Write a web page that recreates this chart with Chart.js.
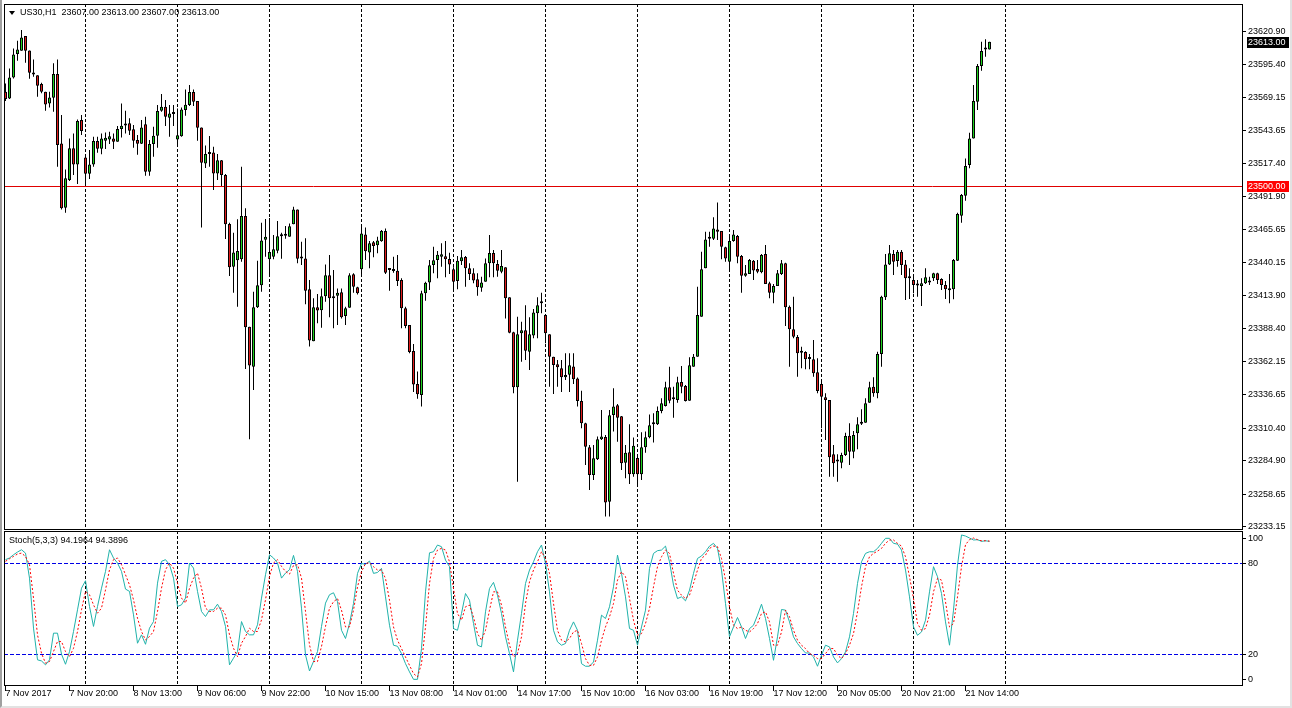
<!DOCTYPE html>
<html>
<head>
<meta charset="utf-8">
<title>US30,H1</title>
<script src="https://cdn.jsdelivr.net/npm/chart.js"></script>
<style>
  html, body { margin: 0; padding: 0; background: #fff; overflow: hidden; }
  #wrap { position: relative; width: 1292px; height: 708px; overflow: hidden; background: #fff; }
  #frame { position: absolute; left: 0; top: 0; width: 1288px; height: 706px;
           border-left: 2px solid #a0a0a0; border-right: 2px solid #e2e2e2; border-bottom: 2px solid #e2e2e2; }
  canvas { position: absolute; left: 0; }
  #main { top: 0; }
  #stoch { top: 531px; }
  .lbl { position: absolute; font: 9px "Liberation Sans", Arial, sans-serif; color: #000; white-space: pre; line-height: 11px; }
  #tri { position: absolute; left: 9px; top: 11px; width: 0; height: 0;
         border-left: 3px solid transparent; border-right: 3px solid transparent; border-top: 4px solid #000; }
</style>
</head>
<body>
<div id="wrap">
  <div id="frame"></div>
  <canvas id="main" width="1292" height="531"></canvas>
  <canvas id="stoch" width="1292" height="177"></canvas>
  <div id="tri"></div>
  <div class="lbl" id="title" style="left:20px; top:7px;"></div>
  <div class="lbl" id="stochTitle" style="left:9px; top:535px;"></div>
</div>
<script>
// US30 H1 candles, oldest first
const opens = [
  23573.9, 23568.6, 23585.1, 23603.4, 23606.0, 23617.5, 23606.2, 23588.7, 23586.7, 23579.9,
  23573.9, 23564.7, 23569.2, 23587.7, 23533.4, 23483.0, 23504.7, 23529.5, 23516.9, 23551.7,
  23522.4, 23509.6, 23516.9, 23535.2, 23529.2, 23535.5, 23536.5, 23537.3, 23534.7, 23544.6,
  23547.8, 23549.1, 23544.4, 23536.0, 23533.1, 23548.3, 23511.2, 23532.9, 23539.4, 23559.0,
  23562.1, 23553.5, 23556.4, 23536.5, 23538.9, 23559.5, 23563.4, 23573.6, 23566.6, 23545.9,
  23517.7, 23525.0, 23526.3, 23509.9, 23520.1, 23508.6, 23470.2, 23436.8, 23441.8, 23442.6,
  23476.5, 23389.8, 23358.5, 23405.0, 23422.2, 23458.0, 23442.6, 23444.6, 23449.3, 23460.6,
  23461.1, 23460.3, 23470.0, 23481.7, 23443.3, 23443.3, 23419.1, 23378.3, 23405.0, 23402.6,
  23413.6, 23430.0, 23413.3, 23414.1, 23416.7, 23398.2, 23404.7, 23430.8, 23420.6, 23434.7,
  23462.1, 23448.0, 23455.9, 23453.5, 23456.7, 23464.8, 23434.2, 23433.4, 23433.7, 23426.4,
  23404.2, 23391.1, 23370.8, 23344.9, 23336.3, 23415.9, 23424.5, 23438.1, 23442.0, 23444.6,
  23444.9, 23442.8, 23434.7, 23425.6, 23441.0, 23444.4, 23435.5, 23431.6, 23426.9, 23420.4,
  23425.1, 23439.4, 23447.5, 23438.9, 23432.9, 23436.3, 23412.8, 23385.4, 23342.3, 23384.6,
  23387.0, 23370.2, 23382.8, 23400.3, 23408.1, 23399.0, 23383.8, 23366.3, 23360.3, 23357.2,
  23350.1, 23352.2, 23358.7, 23349.3, 23331.6, 23314.1, 23295.3, 23273.6, 23285.9, 23301.6,
  23303.4, 23252.7, 23320.6, 23328.2, 23319.6, 23283.3, 23291.4, 23274.1, 23286.9, 23274.1,
  23295.3, 23303.1, 23313.3, 23313.3, 23323.8, 23327.7, 23342.3, 23332.9, 23332.4, 23346.5,
  23343.3, 23331.8, 23358.5, 23366.3, 23397.6, 23435.5, 23458.7, 23458.7, 23466.0, 23464.8,
  23452.0, 23440.7, 23456.9, 23460.8, 23445.2, 23429.8, 23431.1, 23441.5, 23435.0, 23432.4,
  23446.7, 23423.8, 23416.4, 23421.7, 23431.1, 23439.4, 23405.5, 23387.7, 23381.7, 23369.4,
  23370.0, 23364.5, 23364.2, 23354.1, 23344.9, 23334.5, 23332.4, 23289.8, 23284.1, 23283.3,
  23289.3, 23304.4, 23291.9, 23306.3, 23313.8, 23314.6, 23330.3, 23342.8, 23337.6, 23368.4,
  23412.8, 23438.6, 23446.7, 23441.3, 23448.6, 23438.6, 23427.7, 23426.4, 23422.0, 23421.7,
  23423.8, 23424.5, 23427.7, 23431.6, 23427.2, 23422.5, 23418.3, 23419.1, 23441.5, 23476.8,
  23492.4, 23516.4, 23537.3, 23566.0, 23594.0, 23607.0, 23607.0
];
const highs = [
  23580.4, 23592.1, 23607.8, 23613.8, 23622.2, 23617.5, 23606.2, 23599.2, 23586.7, 23580.9,
  23573.9, 23573.9, 23596.1, 23599.2, 23555.6, 23513.0, 23537.3, 23541.2, 23552.2, 23555.6,
  23524.8, 23528.2, 23538.6, 23538.6, 23541.2, 23542.0, 23542.5, 23541.2, 23547.0, 23564.7,
  23559.0, 23553.0, 23547.8, 23539.9, 23551.7, 23554.3, 23536.0, 23546.4, 23563.4, 23572.0,
  23567.3, 23563.4, 23563.4, 23560.8, 23561.6, 23575.7, 23579.1, 23575.7, 23566.6, 23545.9,
  23531.8, 23539.1, 23530.8, 23525.0, 23520.3, 23509.4, 23471.3, 23463.4, 23473.9, 23515.1,
  23482.5, 23389.8, 23417.2, 23441.5, 23471.3, 23474.2, 23474.9, 23461.6, 23472.6, 23463.4,
  23468.7, 23470.7, 23483.8, 23481.7, 23456.4, 23459.0, 23426.4, 23412.0, 23415.4, 23419.8,
  23438.6, 23446.0, 23434.2, 23419.8, 23419.8, 23405.5, 23431.6, 23431.6, 23421.1, 23468.1,
  23467.6, 23456.9, 23456.9, 23460.3, 23465.5, 23466.8, 23435.5, 23444.6, 23446.0, 23427.7,
  23405.5, 23391.1, 23376.2, 23354.6, 23418.0, 23425.1, 23442.0, 23452.5, 23449.1, 23455.1,
  23456.9, 23447.8, 23436.3, 23445.2, 23449.9, 23445.2, 23439.4, 23435.5, 23431.6, 23429.0,
  23443.3, 23461.6, 23449.9, 23442.0, 23449.9, 23436.3, 23412.8, 23385.9, 23397.6, 23393.7,
  23406.5, 23397.1, 23403.7, 23412.8, 23416.4, 23399.5, 23383.8, 23366.3, 23363.7, 23363.7,
  23368.9, 23368.9, 23368.9, 23349.9, 23339.7, 23314.6, 23297.1, 23297.1, 23303.7, 23324.5,
  23305.0, 23324.5, 23341.5, 23329.2, 23319.8, 23297.1, 23313.3, 23302.9, 23289.8, 23307.1,
  23307.6, 23321.1, 23321.9, 23327.2, 23333.7, 23346.7, 23358.5, 23342.8, 23350.6, 23359.0,
  23344.1, 23365.8, 23368.4, 23421.1, 23448.6, 23464.2, 23464.2, 23475.5, 23487.0, 23464.8,
  23452.5, 23460.3, 23465.5, 23461.6, 23446.0, 23438.1, 23442.8, 23442.0, 23442.0, 23446.7,
  23453.8, 23425.1, 23423.2, 23434.2, 23442.0, 23439.9, 23406.3, 23413.3, 23383.3, 23374.1,
  23370.5, 23368.4, 23379.4, 23365.0, 23346.7, 23337.6, 23332.4, 23297.1, 23289.8, 23291.1,
  23306.8, 23314.1, 23308.1, 23318.8, 23325.1, 23333.7, 23346.7, 23350.1, 23370.2, 23414.1,
  23446.7, 23453.8, 23449.9, 23449.9, 23449.9, 23442.0, 23435.5, 23429.0, 23426.4, 23427.7,
  23435.5, 23429.0, 23432.1, 23432.1, 23427.7, 23425.6, 23431.1, 23442.8, 23479.1, 23493.7,
  23521.6, 23541.7, 23579.1, 23595.5, 23613.0, 23614.9, 23613.0
];
const lows = [
  23566.6, 23568.1, 23584.3, 23598.1, 23606.0, 23596.6, 23584.0, 23585.6, 23570.0, 23572.6,
  23559.0, 23561.6, 23558.2, 23515.1, 23481.7, 23479.1, 23503.9, 23508.6, 23501.5, 23539.9,
  23500.2, 23505.5, 23515.1, 23526.1, 23524.8, 23529.0, 23532.9, 23529.0, 23534.7, 23538.1,
  23541.2, 23539.9, 23530.0, 23524.5, 23532.9, 23508.1, 23508.1, 23522.9, 23530.0, 23558.2,
  23547.0, 23538.6, 23547.0, 23532.9, 23538.6, 23555.1, 23562.6, 23562.6, 23535.5, 23467.6,
  23514.1, 23515.1, 23496.8, 23504.7, 23500.0, 23458.5, 23429.5, 23416.4, 23405.5, 23440.7,
  23356.7, 23301.6, 23340.2, 23404.4, 23417.2, 23444.6, 23429.0, 23442.6, 23447.3, 23443.1,
  23458.7, 23460.3, 23470.0, 23439.4, 23438.1, 23407.3, 23374.2, 23378.3, 23392.4, 23389.0,
  23409.4, 23397.1, 23388.5, 23391.1, 23396.3, 23391.1, 23404.7, 23416.4, 23415.1, 23429.0,
  23442.0, 23435.5, 23444.1, 23447.3, 23456.4, 23431.1, 23418.0, 23432.1, 23421.7, 23388.5,
  23388.5, 23368.9, 23338.6, 23333.4, 23327.2, 23410.2, 23418.5, 23431.6, 23427.7, 23436.8,
  23428.5, 23431.1, 23419.1, 23419.1, 23438.1, 23421.1, 23426.4, 23423.8, 23414.1, 23417.2,
  23425.1, 23428.5, 23428.5, 23429.0, 23431.6, 23396.3, 23384.6, 23337.6, 23268.4, 23362.4,
  23363.7, 23355.9, 23380.7, 23380.7, 23400.3, 23376.8, 23342.8, 23337.1, 23342.8, 23338.6,
  23348.0, 23338.6, 23344.9, 23327.2, 23310.2, 23281.5, 23261.9, 23269.7, 23285.4, 23301.1,
  23241.0, 23241.0, 23307.6, 23299.7, 23277.5, 23271.0, 23266.6, 23272.3, 23265.0, 23269.7,
  23291.1, 23302.4, 23299.0, 23312.8, 23321.9, 23327.2, 23329.8, 23318.5, 23330.3, 23337.6,
  23331.1, 23331.8, 23358.5, 23366.3, 23397.6, 23435.5, 23452.5, 23457.7, 23457.7, 23442.6,
  23440.7, 23432.9, 23456.4, 23439.4, 23416.4, 23429.0, 23431.1, 23426.4, 23431.6, 23431.6,
  23423.2, 23412.0, 23408.1, 23421.7, 23430.3, 23390.3, 23358.5, 23380.7, 23350.6, 23357.2,
  23356.4, 23356.4, 23350.6, 23337.6, 23310.2, 23301.1, 23272.3, 23272.3, 23268.4, 23278.9,
  23288.5, 23281.5, 23286.7, 23293.7, 23312.8, 23314.6, 23330.3, 23335.0, 23333.7, 23358.5,
  23410.7, 23438.1, 23430.3, 23436.8, 23430.3, 23410.7, 23411.5, 23416.0, 23413.3, 23406.0,
  23423.2, 23422.5, 23425.6, 23423.2, 23418.5, 23411.5, 23408.1, 23411.2, 23441.3, 23471.3,
  23488.5, 23514.0, 23537.3, 23559.5, 23590.3, 23601.3, 23607.0
];
const closes = [
  23568.1, 23585.1, 23603.1, 23607.0, 23616.4, 23606.0, 23588.7, 23587.4, 23578.6, 23573.9,
  23563.9, 23569.4, 23587.7, 23532.1, 23482.5, 23506.0, 23529.5, 23516.9, 23550.9, 23543.1,
  23509.6, 23516.9, 23535.2, 23529.2, 23537.3, 23537.8, 23538.9, 23534.7, 23544.6, 23547.2,
  23547.5, 23543.3, 23535.5, 23533.1, 23545.9, 23511.2, 23532.9, 23539.4, 23558.7, 23562.1,
  23554.3, 23556.9, 23556.4, 23539.7, 23560.0, 23563.7, 23573.6, 23566.0, 23545.7, 23518.2,
  23525.0, 23525.0, 23509.9, 23520.1, 23508.6, 23470.0, 23436.3, 23448.0, 23449.1, 23476.5,
  23389.3, 23359.3, 23405.0, 23422.2, 23457.4, 23460.3, 23448.3, 23450.4, 23460.6, 23460.6,
  23461.1, 23468.4, 23481.7, 23443.1, 23443.3, 23418.0, 23378.9, 23405.0, 23402.4, 23413.6,
  23430.0, 23412.0, 23412.0, 23416.4, 23397.1, 23404.2, 23430.0, 23421.1, 23415.9, 23462.9,
  23448.8, 23455.1, 23453.0, 23457.4, 23464.8, 23432.1, 23434.2, 23433.4, 23425.6, 23404.2,
  23390.3, 23370.0, 23344.6, 23336.8, 23415.9, 23424.3, 23437.9, 23441.8, 23446.2, 23446.5,
  23442.6, 23438.6, 23425.1, 23441.5, 23444.1, 23435.5, 23431.1, 23425.9, 23420.6, 23424.5,
  23439.4, 23447.5, 23439.4, 23433.7, 23437.3, 23412.0, 23385.1, 23342.3, 23383.8, 23387.0,
  23371.0, 23383.8, 23401.0, 23406.5, 23408.1, 23384.6, 23366.3, 23359.8, 23358.0, 23350.1,
  23352.0, 23359.5, 23348.6, 23331.6, 23314.1, 23295.8, 23273.6, 23286.7, 23301.6, 23303.7,
  23252.0, 23320.4, 23327.2, 23318.5, 23282.8, 23291.1, 23274.1, 23296.6, 23274.1, 23295.3,
  23303.1, 23312.5, 23313.3, 23323.8, 23329.8, 23342.3, 23331.8, 23332.9, 23346.2, 23342.8,
  23331.6, 23359.5, 23366.3, 23398.9, 23434.7, 23458.2, 23458.7, 23466.8, 23464.2, 23452.5,
  23443.3, 23456.9, 23462.1, 23444.6, 23429.8, 23431.6, 23442.0, 23433.9, 23432.9, 23446.0,
  23423.2, 23416.4, 23421.7, 23431.6, 23439.4, 23405.0, 23387.7, 23382.0, 23368.9, 23369.4,
  23364.2, 23364.5, 23353.3, 23339.4, 23335.0, 23332.4, 23287.5, 23282.8, 23284.1, 23289.3,
  23304.2, 23291.9, 23305.0, 23313.3, 23313.8, 23329.8, 23342.3, 23337.6, 23368.4, 23413.3,
  23438.6, 23447.3, 23440.7, 23448.6, 23438.1, 23427.7, 23427.7, 23422.5, 23422.0, 23423.8,
  23428.5, 23424.5, 23431.6, 23426.4, 23422.5, 23419.1, 23418.3, 23442.0, 23478.1, 23493.0,
  23515.6, 23537.3, 23566.6, 23594.0, 23605.7, 23607.0, 23613.0
];

// Stochastic(5,3,3): %K main line and %D signal line
const stochK = [
  82.2, 83.3, 85.4, 87.2, 88.7, 86.5, 70.1, 37.3, 16.5, 15.8,
  13.2, 16.5, 34.0, 34.0, 20.2, 13.6, 21.9, 35.1, 49.3, 63.5,
  68.4, 51.5, 38.4, 51.5, 63.5, 74.5, 88.7, 83.3, 80.0, 74.5,
  62.9, 61.4, 46.0, 27.4, 32.9, 26.7, 37.3, 41.6, 66.8, 81.1,
  82.2, 78.9, 70.1, 51.5, 52.6, 57.0, 80.0, 76.7, 61.4, 48.2,
  44.9, 49.3, 49.3, 53.0, 48.2, 38.4, 13.2, 17.6, 21.9, 41.6,
  35.1, 32.9, 32.9, 39.5, 57.0, 72.3, 85.4, 83.3, 80.0, 70.1,
  73.4, 75.6, 85.0, 74.5, 50.4, 19.7, 9.2, 15.4, 21.9, 38.4,
  53.7, 59.2, 60.5, 54.6, 35.9, 30.5, 40.3, 53.5, 73.2, 79.7,
  79.1, 81.3, 73.2, 73.8, 76.5, 57.8, 39.2, 26.1, 25.4, 20.6,
  14.0, 8.6, 3.7, 3.7, 23.9, 61.1, 86.7, 87.4, 91.8, 90.7,
  81.9, 77.6, 37.0, 35.9, 46.9, 60.0, 55.6, 40.3, 26.1, 25.0,
  48.0, 63.3, 67.3, 58.9, 46.9, 31.6, 20.6, 8.6, 29.4, 46.9,
  66.6, 75.4, 80.8, 87.4, 91.8, 79.7, 61.1, 35.9, 28.3, 26.1,
  27.2, 35.9, 41.4, 35.9, 14.0, 12.3, 12.3, 15.1, 29.4, 45.8,
  43.6, 51.3, 64.4, 85.2, 73.2, 57.8, 37.0, 35.9, 26.1, 38.1,
  49.1, 76.5, 86.3, 88.1, 88.5, 91.1, 80.8, 65.5, 56.7, 57.8,
  55.2, 62.2, 73.2, 83.0, 84.6, 87.4, 91.1, 92.9, 89.6, 75.4,
  53.5, 31.6, 38.1, 44.3, 38.1, 30.5, 37.0, 39.2, 45.8, 53.0,
  43.6, 30.5, 16.2, 31.6, 49.5, 49.1, 41.4, 31.6, 27.2, 23.9,
  21.0, 21.0, 18.4, 12.3, 19.5, 26.1, 25.0, 18.4, 14.5, 17.3,
  21.7, 31.6, 46.9, 66.6, 80.8, 86.3, 87.4, 87.4, 89.6, 92.9,
  96.2, 96.2, 92.9, 92.4, 88.5, 75.4, 57.8, 38.1, 32.6, 34.8,
  42.5, 61.1, 77.6, 71.0, 60.0, 41.4, 26.1, 49.1, 78.6, 98.4,
  97.7, 96.4, 95.1, 95.3, 94.2, 94.6, 94.1964
];
const stochD = [
  81.1, 82.8, 84.3, 85.9, 86.5, 84.3, 78.9, 57.0, 32.9, 20.8,
  14.3, 15.4, 21.9, 28.5, 28.5, 21.9, 18.6, 24.1, 35.1, 49.3,
  61.4, 59.2, 52.6, 47.1, 50.4, 62.4, 75.6, 82.2, 83.3, 78.9,
  72.3, 65.7, 55.9, 43.8, 35.1, 29.6, 31.8, 35.1, 48.2, 63.5,
  75.6, 80.0, 76.7, 66.8, 57.0, 53.7, 63.5, 70.1, 73.4, 63.5,
  50.4, 48.2, 48.2, 50.4, 50.4, 46.0, 32.9, 24.1, 18.6, 27.4,
  31.8, 37.3, 35.1, 35.1, 42.7, 55.9, 71.2, 80.0, 82.2, 77.8,
  74.5, 72.7, 78.4, 78.9, 70.1, 48.2, 26.3, 15.4, 15.4, 25.2,
  38.4, 50.4, 54.6, 56.7, 49.1, 38.1, 38.1, 49.1, 64.4, 74.3,
  79.7, 80.2, 77.6, 75.4, 75.4, 69.9, 55.6, 38.1, 29.4, 23.9,
  18.4, 12.9, 7.5, 5.3, 14.0, 38.1, 66.6, 83.0, 88.5, 89.6,
  88.5, 80.8, 63.3, 46.9, 42.5, 51.3, 52.4, 44.7, 33.7, 29.4,
  35.9, 49.1, 61.1, 61.1, 52.4, 38.1, 26.1, 18.4, 20.6, 31.6,
  53.5, 67.7, 75.4, 80.8, 87.4, 83.0, 73.2, 53.5, 35.9, 29.4,
  28.3, 30.5, 34.8, 35.9, 27.2, 17.3, 12.9, 12.9, 18.4, 29.4,
  38.1, 44.7, 53.5, 68.8, 74.3, 71.0, 56.7, 42.5, 32.6, 33.7,
  40.3, 50.2, 64.4, 77.6, 84.1, 88.5, 86.3, 73.2, 62.2, 58.9,
  56.7, 58.9, 66.6, 75.4, 83.0, 85.2, 89.6, 91.1, 90.7, 83.0,
  68.8, 51.3, 39.2, 37.0, 38.1, 35.9, 34.8, 37.0, 40.3, 46.9,
  48.0, 41.4, 26.1, 26.1, 34.8, 49.1, 44.7, 35.9, 29.4, 26.1,
  23.9, 20.6, 19.5, 17.3, 17.3, 20.6, 23.9, 23.9, 19.5, 17.3,
  20.6, 26.1, 33.7, 48.0, 64.4, 77.6, 84.1, 86.3, 87.8, 89.6,
  92.9, 95.1, 95.1, 92.9, 91.1, 84.1, 71.0, 56.7, 40.3, 35.9,
  37.0, 45.8, 61.1, 69.9, 68.8, 54.6, 38.1, 40.3, 57.8, 77.6,
  92.0, 95.3, 96.4, 95.3, 94.6, 94.6, 94.3896
];

// axis labels
const priceTicks = [23233.15, 23258.65, 23284.90, 23310.40, 23336.65, 23362.15, 23388.40, 23413.90,
                    23440.15, 23465.65, 23491.90, 23517.40, 23543.65, 23569.15, 23595.40, 23620.90];
const timeLabels = ['7 Nov 2017', '7 Nov 20:00', '8 Nov 13:00', '9 Nov 06:00', '9 Nov 22:00',
                    '10 Nov 15:00', '13 Nov 08:00', '14 Nov 01:00', '14 Nov 17:00', '15 Nov 10:00',
                    '16 Nov 03:00', '16 Nov 19:00', '17 Nov 12:00', '20 Nov 05:00', '20 Nov 21:00',
                    '21 Nov 14:00'];
const stochTickLabels = ['0', '20', '80', '100'];
const stochLevels = [20, 80];
const levelPrice = 23500;

// layout / look
const FONT = '"Liberation Sans", Arial, sans-serif';
const BULL = '#1fd21f', BEAR = '#e01c1c';
const X_MIN = -0.375, X_MAX = 309.125;      // 4 px per bar, plot from x=4 to x=1242
const BARS_PER_LABEL = 16, BARS_PER_GRID = 23, FIRST_GRID = 20;
const stochLabelSpots = [3.9, 20, 80, 95.9]; // where MT4 puts the 0/20/80/100 captions

Chart.defaults.font.family = FONT;
Chart.defaults.font.size = 9;
Chart.defaults.color = '#000';

const n = closes.length;
const last = n - 1;
const idx = closes.map((_, i) => i);
const gridIdx = [];
for (let g = FIRST_GRID; g < n + 5; g += BARS_PER_GRID) gridIdx.push(g);
const labelIdx = timeLabels.map((_, k) => k * BARS_PER_LABEL);

document.getElementById('title').textContent =
  'US30,H1  ' + [opens[last], highs[last], lows[last], closes[last]].map(v => v.toFixed(2)).join(' ');
document.getElementById('stochTitle').textContent =
  'Stoch(5,3,3) ' + stochK[last].toFixed(4) + ' ' + stochD[last].toFixed(4);

const framePlugin = {
  id: 'frame',
  afterDraw(chart) {
    const { ctx, chartArea: a } = chart;
    ctx.save();
    ctx.strokeStyle = '#000';
    ctx.lineWidth = 1;
    ctx.strokeRect(a.left + 0.5, a.top + 0.5, a.right - a.left, a.bottom - a.top);
    ctx.restore();
  }
};

function priceTag(chart, value, color) {
  const { ctx } = chart;
  const ys = chart.scales.y;
  const y = Math.round(ys.getPixelForValue(value));
  ctx.save();
  ctx.fillStyle = color;
  ctx.fillRect(ys.left + 5, y - 5, 42, 11);
  ctx.fillStyle = '#fff';
  ctx.font = '9px ' + FONT;
  ctx.textBaseline = 'middle';
  ctx.textAlign = 'left';
  ctx.fillText(value.toFixed(2), ys.left + 6, y + 0.5);
  ctx.restore();
}

const levelPlugin = {
  id: 'level',
  beforeDatasetsDraw(chart) {
    const { ctx, chartArea: a } = chart;
    const y = Math.round(chart.scales.y.getPixelForValue(levelPrice)) + 0.5;
    ctx.save();
    ctx.strokeStyle = '#e00000';
    ctx.lineWidth = 1;
    ctx.beginPath();
    ctx.moveTo(a.left, y);
    ctx.lineTo(a.right, y);
    ctx.stroke();
    ctx.restore();
  },
  afterDraw(chart) {
    priceTag(chart, levelPrice, '#ff0000');
    priceTag(chart, closes[last], '#000000');
  }
};

new Chart(document.getElementById('main'), {
  type: 'bar',
  data: {
    datasets: [
      {
        label: 'wick',
        data: idx.map(i => ({ x: i, y: [lows[i], highs[i]] })),
        backgroundColor: '#000',
        borderWidth: 0,
        barThickness: 1,
        grouped: false,
        inflateAmount: 0,
        order: 2
      },
      {
        label: 'body',
        data: idx.map(i => ({ x: i, y: [opens[i], closes[i]] })),
        backgroundColor: idx.map(i => closes[i] >= opens[i] ? BULL : BEAR),
        borderColor: '#000',
        borderWidth: 1,
        borderSkipped: false,
        barThickness: 3,
        minBarLength: 2,
        grouped: false,
        inflateAmount: 0,
        order: 1
      }
    ]
  },
  options: {
    responsive: false,
    devicePixelRatio: 1,
    animation: false,
    events: [],
    layout: { padding: { left: 4, top: 4, right: 0, bottom: 2 } },
    plugins: { legend: { display: false }, tooltip: { enabled: false } },
    scales: {
      x: {
        type: 'linear',
        min: X_MIN,
        max: X_MAX,
        offset: false,
        ticks: { display: false },
        grid: { offset: false, color: '#000', lineWidth: 1, drawTicks: false },
        border: { display: false, dash: [3, 2] },
        afterBuildTicks: s => { s.ticks = gridIdx.map(v => ({ value: v })); },
        afterFit: s => { s.height = 0; s.paddingLeft = 0; s.paddingRight = 0; }
      },
      y: {
        type: 'linear',
        position: 'right',
        min: 23231.3,
        max: 23642.6,
        ticks: { autoSkip: false, padding: 2, callback: v => Number(v).toFixed(2) },
        grid: { drawOnChartArea: false, drawTicks: true, tickLength: 4, tickColor: '#000' },
        border: { display: true, color: '#000' },
        afterBuildTicks: s => { s.ticks = priceTicks.map(v => ({ value: v })); },
        afterFit: s => { s.width = 50; s.paddingTop = 0; s.paddingBottom = 0; }
      }
    }
  },
  plugins: [levelPlugin, framePlugin]
});

new Chart(document.getElementById('stoch'), {
  type: 'line',
  data: {
    datasets: [
      {
        label: 'Signal',
        data: idx.map(i => ({ x: i, y: stochD[i] })),
        borderColor: '#ff0000',
        borderWidth: 1,
        borderDash: [2, 2],
        pointRadius: 0,
        fill: false,
        order: 0
      },
      {
        label: 'Main',
        data: idx.map(i => ({ x: i, y: stochK[i] })),
        borderColor: '#20b2aa',
        borderWidth: 1,
        pointRadius: 0,
        fill: false,
        order: 1
      }
    ]
  },
  options: {
    responsive: false,
    devicePixelRatio: 1,
    animation: false,
    events: [],
    layout: { padding: { left: 4, top: 0, right: 0, bottom: 0 } },
    plugins: { legend: { display: false }, tooltip: { enabled: false } },
    scales: {
      x: {
        type: 'linear',
        position: 'bottom',
        min: X_MIN,
        max: X_MAX,
        offset: false,
        ticks: {
          autoSkip: false,
          maxRotation: 0,
          minRotation: 0,
          align: 'start',
          padding: -3,
          callback: (v, k) => timeLabels[k]
        },
        grid: { offset: false, drawOnChartArea: false, drawTicks: true, tickLength: 6, tickColor: '#000' },
        border: { display: true, color: '#000' },
        afterBuildTicks: s => { s.ticks = labelIdx.map(v => ({ value: v })); },
        afterFit: s => { s.height = 23; s.paddingLeft = 0; s.paddingRight = 0; }
      },
      x2: {
        type: 'linear',
        position: 'top',
        min: X_MIN,
        max: X_MAX,
        offset: false,
        ticks: { display: false },
        grid: { offset: false, color: '#000', lineWidth: 1, drawTicks: false },
        border: { display: false, dash: [3, 2] },
        afterBuildTicks: s => { s.ticks = gridIdx.map(v => ({ value: v })); },
        afterFit: s => { s.height = 0; s.paddingLeft = 0; s.paddingRight = 0; }
      },
      y: {
        type: 'linear',
        position: 'right',
        min: 0,
        max: 101,
        ticks: { autoSkip: false, padding: 2, callback: (v, k) => stochTickLabels[k] },
        grid: {
          drawTicks: true,
          tickLength: 4,
          tickColor: '#000',
          color: c => (c.tick && stochLevels.includes(c.tick.value)) ? '#0000e6' : 'rgba(0,0,0,0)'
        },
        border: { display: true, color: '#000', dash: [4, 2] },
        afterBuildTicks: s => { s.ticks = stochLabelSpots.map(v => ({ value: v })); },
        afterFit: s => { s.width = 50; s.paddingTop = 0; s.paddingBottom = 0; }
      }
    }
  },
  plugins: [framePlugin]
});
</script>
</body>
</html>
